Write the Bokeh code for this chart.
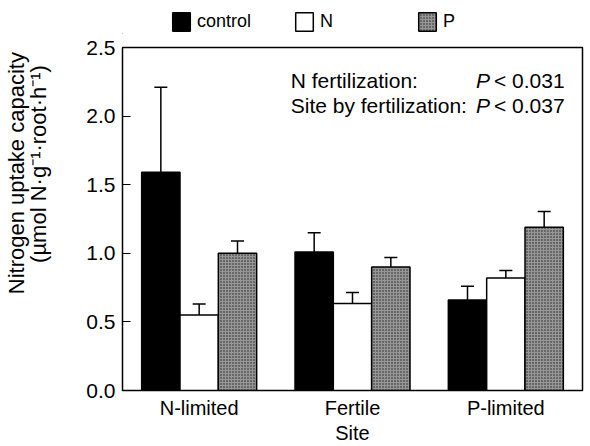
from bokeh.plotting import figure
from bokeh.models import (ColumnDataSource, FixedTicker, PrintfTickFormatter, Legend,
                          Whisker, TeeHead, Label, Range1d)
from bokeh.layouts import column
from bokeh.transform import dodge
from bokeh.embed import file_html
from bokeh.resources import INLINE

# ---- data ----
sites = ["N-limited", "Fertile", "P-limited"]
series_names = ["control", "N", "P"]
control = [1.59, 1.01, 0.66]
control_err = [0.62, 0.14, 0.10]
nitrogen = [0.55, 0.635, 0.82]
nitrogen_err = [0.08, 0.08, 0.055]
phosphorus = [1.00, 0.90, 1.19]
phosphorus_err = [0.09, 0.07, 0.115]
y_ticks = [0.0, 0.5, 1.0, 1.5, 2.0, 2.5]

FONT = "Liberation Sans"
NB = "\u00a0"

src = ColumnDataSource(dict(
    site=sites,
    control=control,
    control_up=[v + e for v, e in zip(control, control_err)],
    nit=nitrogen,
    nit_up=[v + e for v, e in zip(nitrogen, nitrogen_err)],
    pho=phosphorus,
    pho_up=[v + e for v, e in zip(phosphorus, phosphorus_err)],
))

styles = [dict(fill_color="black"),
          dict(fill_color="white"),
          dict(fill_color="#969696", hatch_pattern="dot", hatch_color="#222222",
               hatch_scale=3, hatch_weight=1)]

TOP_H = 34
p = figure(x_range=sites, y_range=Range1d(0, 2.5), width=590, height=446 - TOP_H,
           output_backend="svg", toolbar_location=None,
           min_border_left=120, min_border_right=8, min_border_top=47 - TOP_H,
           min_border_bottom=55)

p.xgrid.grid_line_color = None
p.ygrid.grid_line_color = None
p.outline_line_color = "black"
p.outline_line_width = 1.5
p.x_range.range_padding = 0

common = dict(width=0.25, line_color="black", line_width=1.5)
for off, col, st in [(-0.25, "control", styles[0]), (0.0, "nit", styles[1]),
                     (0.25, "pho", styles[2])]:
    p.vbar(x=dodge("site", off, range=p.x_range), top=col, source=src, **common, **st)

for off, lo, up in [(-0.25, "control", "control_up"), (0.0, "nit", "nit_up"),
                    (0.25, "pho", "pho_up")]:
    w = Whisker(source=src, base=dodge("site", off, range=p.x_range), lower=lo, upper=up,
                dimension="height", line_color="black", line_width=1.5,
                upper_head=TeeHead(size=13, line_color="black", line_width=1.5))
    w.lower_head.line_alpha = 0
    p.add_layout(w)

# y axis
p.yaxis.ticker = FixedTicker(ticks=y_ticks)
p.yaxis.formatter = PrintfTickFormatter(format="%.1f")
p.yaxis.major_tick_in = 8
p.yaxis.major_tick_out = 0
p.yaxis.minor_tick_line_color = None
p.yaxis.major_label_standoff = 7
p.yaxis.major_label_text_font = FONT
p.yaxis.major_label_text_font_size = "21px"
p.yaxis.major_label_text_color = "black"
p.yaxis.axis_line_color = "black"
p.yaxis.major_tick_line_color = "black"
p.yaxis.axis_label = (NB * 15 + "Nitrogen uptake capacity" + "\n" +
                      NB * 18 + "(\u00b5mol N\u00b7g\u207b\u00b9\u00b7root\u00b7h\u207b\u00b9)")
p.yaxis.axis_label_standoff = 32
p.yaxis.axis_label_text_font = FONT
p.yaxis.axis_label_text_font_size = "22px"
p.yaxis.axis_label_text_font_style = "normal"
p.yaxis.axis_label_text_color = "black"
p.yaxis.axis_label_text_line_height = 0.9

# x axis
p.xaxis.major_tick_line_color = None
p.xaxis.minor_tick_line_color = None
p.xaxis.major_label_standoff = 0
p.xaxis.major_label_text_font = FONT
p.xaxis.major_label_text_font_size = "20px"
p.xaxis.major_label_text_color = "black"
p.xaxis.axis_label = "Site"
p.xaxis.axis_label_standoff = 0
p.xaxis.axis_label_text_font = FONT
p.xaxis.axis_label_text_font_size = "20px"
p.xaxis.axis_label_text_font_style = "normal"
p.xaxis.axis_label_text_color = "black"
p.xaxis.axis_line_color = "black"

# statistics annotation
stat_font = dict(text_font=FONT, text_font_size="21px", text_color="black",
                 text_baseline="alphabetic")
p.add_layout(Label(x=1.097, y=2.26, text="N fertilization:", text_align="left", **stat_font))
p.add_layout(Label(x=1.097, y=2.08, text="Site by fertilization:", text_align="left", **stat_font))
p.add_layout(Label(x=2.396, y=2.26, text="P", text_align="right", text_font_style="italic", **stat_font))
p.add_layout(Label(x=2.396, y=2.08, text="P", text_align="right", text_font_style="italic", **stat_font))
p.add_layout(Label(x=2.883, y=2.26, text="< 0.031", text_align="right", **stat_font))
p.add_layout(Label(x=2.883, y=2.08, text="< 0.037", text_align="right", **stat_font))

# legend strip above the plot (its own small figure, legend inside its frame)
top = figure(width=590, height=TOP_H, output_backend="svg", toolbar_location=None,
             x_axis_type=None, y_axis_type=None, min_border=0,
             x_range=Range1d(0, 1), y_range=Range1d(0, 1))
top.outline_line_color = None
top.xgrid.grid_line_color = None
top.ygrid.grid_line_color = None
# swatch renderers lie completely outside the strip's ranges: only legend swatches show
swatch_src = ColumnDataSource(dict(x=[-10.0], top=[-2.0], bottom=[-3.0]))
leg_items = []
for name, st in zip(series_names, styles):
    r = top.vbar(x="x", top="top", bottom="bottom", source=swatch_src, width=0.1,
                 line_color="black", line_width=1.5, **st)
    leg_items.append((name, [r]))
legend = Legend(items=leg_items, orientation="horizontal", location=(48, 1),
                glyph_width=22, glyph_height=23, label_standoff=5, label_width=86,
                spacing=10, padding=0, margin=0, border_line_color=None,
                background_fill_alpha=0, label_text_font=FONT,
                label_text_font_size="18px", label_text_color="black")
top.add_layout(legend)

layout = column(top, p, spacing=0)
open("out.html", "w").write(file_html(layout, INLINE))
